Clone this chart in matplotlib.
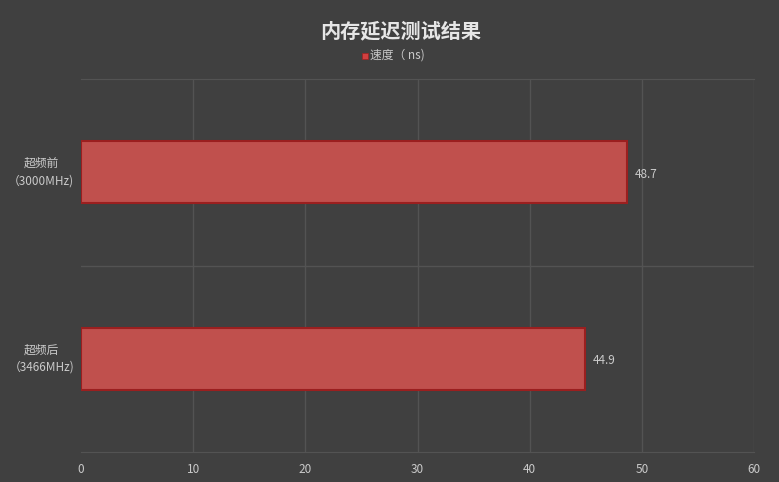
import matplotlib
matplotlib.use("Agg")
import matplotlib.pyplot as plt
from matplotlib.patches import Rectangle

plt.rcParams['font.family'] = ['Noto Sans CJK SC', 'DejaVu Sans']

categories = ["超频前\n（3000MHz)", "超频后\n（3466MHz)"]
values = [48.7, 44.9]
xticks = [0, 10, 20, 30, 40, 50, 60]
title = "内存延迟测试结果"
series_name = "速度（ ns)"

bg = "#404040"
grid_c = "#535353"
text_c = "#cacaca"
bar_c = "#c0504d"
edge_c = "#9b1f1f"

fig = plt.figure(figsize=(7.79, 4.82), dpi=100, facecolor=bg)
ax = fig.add_axes([81/779, 1-452/482, (754-81)/779, (452-79)/482], facecolor=bg)

ypos = list(range(len(categories)))
ax.barh(ypos, values, height=0.33, color=bar_c, edgecolor=edge_c, linewidth=1.5, zorder=3)
for y, v in zip(ypos, values):
    ax.text(v + 0.7, y + 0.01, f"{v}", va="center", ha="left", color=text_c, fontsize=8.5)

ax.set_xlim(0, 60)
ax.set_ylim(len(categories) - 0.5, -0.5)
ax.set_xticks(xticks)
ax.set_xticklabels([str(t) for t in xticks])
ax.set_yticks(ypos)
ax.set_yticklabels([])
ax.tick_params(axis='both', length=0, colors=text_c, labelsize=8.5)
ax.tick_params(axis='x', pad=8)
for y, c in zip(ypos, categories):
    ax.text(-0.059, y, c, transform=ax.get_yaxis_transform(), ha="center", va="center",
            color=text_c, fontsize=8.5, linespacing=1.45)

for t in xticks:
    if t > 0:
        ax.axvline(t, color=grid_c, lw=1, zorder=1)
ax.axhline(0.5, color=grid_c, lw=1, zorder=1)
for s in ax.spines.values():
    s.set_visible(False)
ax.spines['bottom'].set_visible(True)
ax.spines['bottom'].set_color(grid_c)
ax.spines['top'].set_visible(True)
ax.spines['top'].set_color(grid_c)

fig.text(401/779, 1-31/482, title, ha="center", va="center", color="#e6e6e6",
         fontsize=14.5, fontweight="bold")
fig.patches.append(Rectangle((362/779, 1-58.5/482), 6/779, 6/482, transform=fig.transFigure,
                             facecolor="#d04040", edgecolor="#a02020", lw=0.5))
fig.text(370/779, 1-55/482, series_name, ha="left", va="center", color=text_c, fontsize=8.5)

fig.savefig("out.png", dpi=100, facecolor=bg)
